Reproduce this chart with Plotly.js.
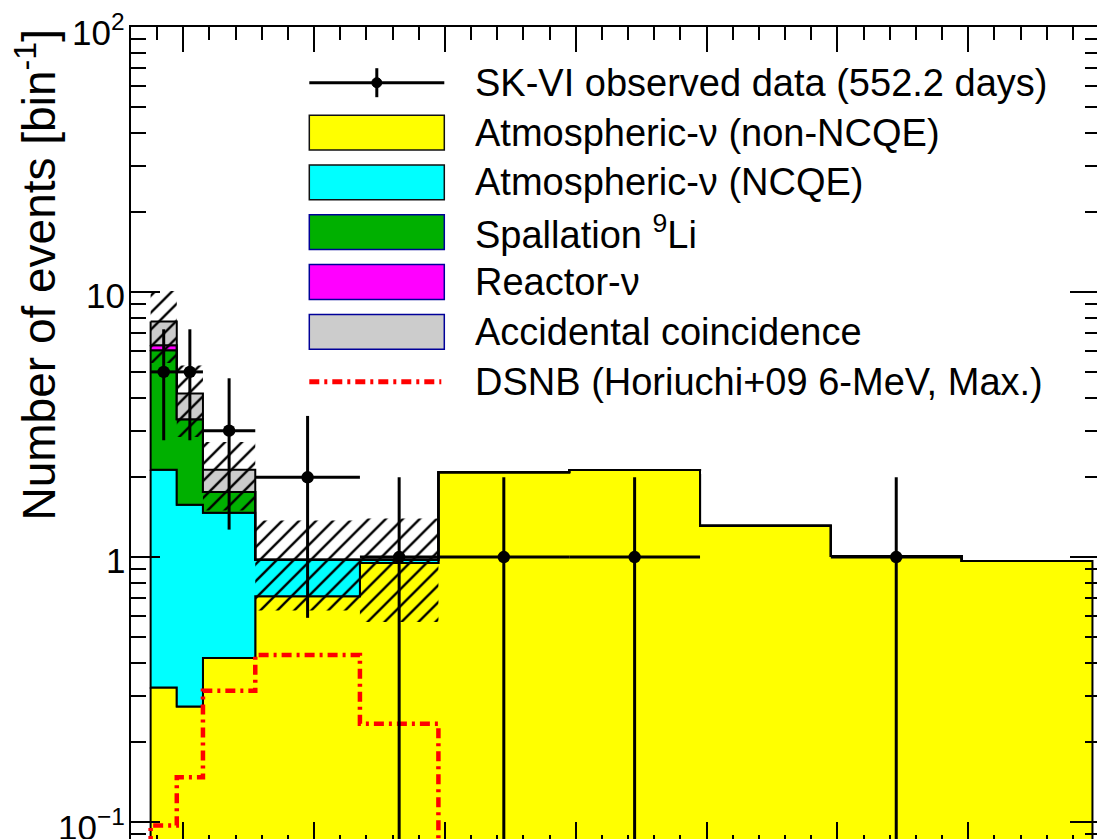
<!DOCTYPE html>
<html>
<head>
<meta charset="utf-8">
<script src="https://cdn.plot.ly/plotly-3.0.1.min.js"></script>
<style>
  html, body { margin: 0; padding: 0; background: #fff; overflow: hidden; width: 1097px; height: 839px; }
  #wrap { width: 1097px; height: 839px; overflow: hidden; position: relative; }
  #chart { width: 1120px; height: 870px; position: absolute; left: 0; top: 0; }
</style>
</head>
<body>
<div id="wrap"><div id="chart"></div></div>
<script>
// ---------------- data ----------------
const binEdges      = [7.5, 9.5, 11.5, 15.5, 23.5, 29.5, 39.5, 49.5, 59.5, 69.5, 79.5]; // MeV
const atmNonNCQE    = [0.322, 0.273, 0.416, 0.712, 0.950, 2.09, 2.13, 1.314, 1.01, 0.966];
const atmNCQE       = [1.816, 1.304, 1.054, 0.266, 0.028, 0, 0, 0, 0, 0];
const spallationLi9 = [3.89, 1.733, 0.289, 0, 0, 0, 0, 0, 0, 0];
const reactorNu     = [0.27, 0, 0, 0, 0, 0, 0, 0, 0, 0];
const accidental    = [1.45, 0.83, 0.379, 0, 0, 0, 0, 0, 0, 0];
// total background uncertainty band (signal-region bins 1..5)
const bandUpper     = [10.1, 5.29, 2.72, 1.375, 1.40];
const bandLower     = [5.4, 2.84, 1.50, 0.629, 0.569];
const dsnbMax       = [0.097, 0.1475, 0.313, 0.427, 0.235, 0, 0, 0, 0, 0];
const observed      = [5, 5, 3, 2, 1, 1, 1, 0, 1, 0];
const observedErr   = [2.24, 2.24, 1.73, 1.41, 1, 1, 1, 0, 1, 0];

const yTickVals   = [0.1, 1, 10, 100];
const yTickLabels = ['10<sup>\u22121</sup>', '1', '10', '10<sup>2</sup>'];
const legendLabels = [
  'SK-VI observed data (552.2 days)',
  'Atmospheric-\u03bd (non-NCQE)',
  'Atmospheric-\u03bd (NCQE)',
  'Spallation <sup>9</sup>Li',
  'Reactor-\u03bd',
  'Accidental coincidence',
  'DSNB (Horiuchi+09 6-MeV, Max.)'
];
const yTitle = 'Number of events [bin<sup>-1</sup>]';

// ---------------- styling ----------------
const FONT = 'Liberation Sans, Arial, Helvetica, sans-serif';
const COL = { yellow: '#ffff00', cyan: '#00ffff', green: '#00b000', magenta: '#ff00ff', gray: '#cccccc', red: '#ff0000' };
const FLOOR = 1e-3; // below visible range: histogram baseline on log axis
const W = 1120, H = 870;
const M = { l: 131, r: 21, t: 27, b: 23 };
const PW = W - M.l - M.r, PH = H - M.t - M.b;
const px2x = px => (px - M.l) / PW;
const py2y = py => (H - M.b - py) / PH;

// ---------------- helpers ----------------
function stepPts(edges, vals) {
  const xs = [], ys = [];
  for (let i = 0; i < vals.length; i++) {
    const v = vals[i] > 0 ? vals[i] : FLOOR;
    xs.push(edges[i], edges[i + 1]);
    ys.push(v, v);
  }
  return { xs, ys };
}
function cumulative(list) {
  const out = []; let acc = list[0].map(() => 0);
  for (const arr of list) { acc = acc.map((a, i) => a + arr[i]); out.push(acc.slice()); }
  return out;
}
function layerPolygon(edges, top, bottom) {
  const t = stepPts(edges, top), b = stepPts(edges, bottom);
  const xs = t.xs.concat(b.xs.slice().reverse()), ys = t.ys.concat(b.ys.slice().reverse());
  xs.push(xs[0]); ys.push(ys[0]);
  return { xs, ys };
}

const layers = [atmNonNCQE, atmNCQE, spallationLi9, reactorNu, accidental];
const layerColors = [COL.yellow, COL.cyan, COL.green, COL.magenta, COL.gray];
const cum = cumulative(layers);
const traces = [];
cum.forEach((top, k) => {
  const bottom = k === 0 ? top.map(() => FLOOR) : cum[k - 1];
  const p = layerPolygon(binEdges, top, bottom);
  traces.push({
    type: 'scatter', mode: 'lines', x: p.xs, y: p.ys, fill: 'toself',
    fillcolor: layerColors[k], line: { color: '#000', width: 2 }, hoverinfo: 'skip', showlegend: false
  });
});

// hatched uncertainty band
const sigEdges = binEdges.slice(0, bandUpper.length + 1);
const band = layerPolygon(sigEdges, bandUpper, bandLower);
traces.push({
  type: 'scatter', mode: 'lines', x: band.xs, y: band.ys, fill: 'toself',
  fillcolor: 'rgba(0,0,0,0)', line: { width: 0, color: 'rgba(0,0,0,0)' },
  fillpattern: { shape: '/', fillmode: 'replace', fgcolor: '#000', bgcolor: 'rgba(0,0,0,0)', size: 12, solidity: 0.2 },
  hoverinfo: 'skip', showlegend: false
});

// DSNB expectation (step line)
const d = stepPts(binEdges, dsnbMax);
traces.push({
  type: 'scatter', mode: 'lines',
  x: [binEdges[0]].concat(d.xs), y: [FLOOR].concat(d.ys),
  line: { color: COL.red, width: 4.5, dash: '10px,5px,3px,5px' }, hoverinfo: 'skip', showlegend: false
});

// observed data
const centers = binEdges.slice(0, -1).map((e, i) => (e + binEdges[i + 1]) / 2);
const halfW = binEdges.slice(0, -1).map((e, i) => (binEdges[i + 1] - e) / 2);
traces.push({
  type: 'scatter', mode: 'markers', x: centers, y: observed.map(v => v > 0 ? v : null),
  marker: { color: '#000', size: 12.5 },
  error_x: { type: 'data', array: halfW, color: '#000', thickness: 3, width: 0 },
  error_y: { type: 'data', array: observedErr, color: '#000', thickness: 3, width: 0 },
  hoverinfo: 'skip', showlegend: false
});

// ---------------- legend (drawn in ROOT style) ----------------
const LEG = { x0: 309.3, x1: 444.3, top: 82.7, gap: 49.83, half: 17.4, textX: 473 };
const rowY = i => LEG.top + i * LEG.gap;
const shapes = [];
const annotations = [];
shapes.push({ type: 'line', xref: 'paper', yref: 'paper', x0: px2x(LEG.x0), x1: px2x(LEG.x1), y0: py2y(rowY(0)), y1: py2y(rowY(0)), line: { color: '#000', width: 3 } });
const cx = (LEG.x0 + LEG.x1) / 2;
shapes.push({ type: 'line', xref: 'paper', yref: 'paper', x0: px2x(cx), x1: px2x(cx), y0: py2y(rowY(0) - 14.5), y1: py2y(rowY(0) + 14.5), line: { color: '#000', width: 3 } });
shapes.push({ type: 'circle', xref: 'paper', yref: 'paper', x0: px2x(cx - 5), x1: px2x(cx + 5), y0: py2y(rowY(0) - 5), y1: py2y(rowY(0) + 5), fillcolor: '#000', line: { color: '#000', width: 1 } });
const boxBorders = ['#111', '#111', '#000099', '#000099', '#000099'];
layerColors.forEach((c, k) => {
  const y = rowY(k + 1);
  shapes.push({ type: 'rect', xref: 'paper', yref: 'paper', x0: px2x(LEG.x0), x1: px2x(LEG.x1), y0: py2y(y + LEG.half), y1: py2y(y - LEG.half), fillcolor: c, line: { color: boxBorders[k], width: 1.5 } });
});
shapes.push({ type: 'line', xref: 'paper', yref: 'paper', x0: px2x(LEG.x0), x1: px2x(LEG.x1 - 3), y0: py2y(rowY(6)), y1: py2y(rowY(6)), line: { color: COL.red, width: 5, dash: '10px,5px,3px,5px' } });
legendLabels.forEach((t, i) => {
  annotations.push({ xref: 'paper', yref: 'paper', x: px2x(LEG.textX), y: py2y(rowY(i)), xanchor: 'left', yanchor: 'middle', text: t, showarrow: false, font: { family: FONT, size: 38, color: '#000' } });
});
// y-axis tick labels (ROOT style, right-aligned next to the axis)
yTickVals.forEach((v, i) => {
  annotations.push({ xref: 'paper', yref: 'y', x: px2x(127), y: Math.log10(v), xanchor: 'right', yanchor: 'middle', yshift: -3,
    text: yTickLabels[i], showarrow: false, font: { family: FONT, size: 35, color: '#000' } });
});
// y-axis title (ROOT style: aligned to the top end)
annotations.push({ xref: 'paper', yref: 'paper', x: px2x(35), y: py2y(28), xanchor: 'center', yanchor: 'top', textangle: -90, text: yTitle, showarrow: false, font: { family: FONT, size: 46, color: '#000' } });

const layout = {
  width: W, height: H, margin: M, paper_bgcolor: '#fff', plot_bgcolor: '#fff', showlegend: false,
  font: { family: FONT, color: '#000' },
  xaxis: {
    range: [6, 80], showgrid: false, zeroline: false, showline: true, linecolor: '#000', linewidth: 2, mirror: 'allticks',
    ticks: 'inside', ticklen: 25, tickwidth: 2, tickcolor: '#000', dtick: 10, tick0: 0, showticklabels: false,
    minor: { ticks: 'inside', ticklen: 12.5, tickwidth: 2, tickcolor: '#000', dtick: 2, tick0: 0, showgrid: false },
    automargin: false, fixedrange: true
  },
  yaxis: {
    type: 'log', range: [-1.094, 2.0005], showgrid: false, zeroline: false, showline: true, linecolor: '#000', linewidth: 2, mirror: 'allticks',
    ticks: 'inside', ticklen: 29, tickwidth: 2, tickcolor: '#000', dtick: 1, showticklabels: false,
    minor: { ticks: 'inside', ticklen: 14.5, tickwidth: 2, tickcolor: '#000', dtick: 'D1', showgrid: false },
    automargin: false, fixedrange: true
  },
  shapes: shapes,
  annotations: annotations
};

Plotly.newPlot('chart', traces, layout, { displayModeBar: false, staticPlot: true });
</script>
</body>
</html>
